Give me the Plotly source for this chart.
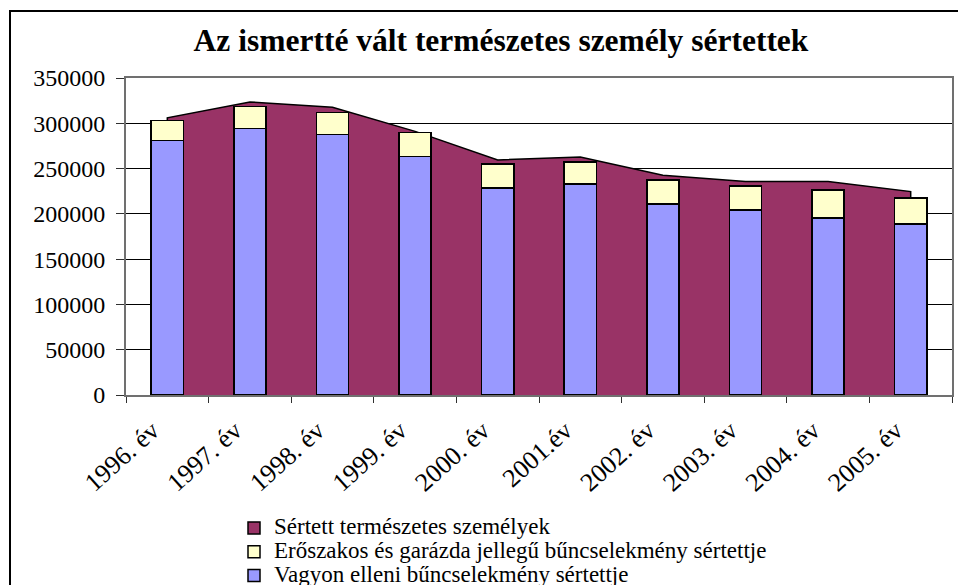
import plotly.graph_objects as go

categories = ["1996. év", "1997. év", "1998. év", "1999. év", "2000. év",
              "2001.év", "2002. év", "2003. év", "2004. év", "2005. év"]
sertett = [306000, 323600, 317800, 291100, 259500, 262800, 242700, 235600, 235600, 224600]
vagyon = [281200, 294400, 287800, 263600, 228400, 232800, 210800, 204200, 195400, 188800]
eroszakos = [22000, 24200, 24200, 26400, 26700, 24200, 26400, 26400, 30800, 28600]

names = ["Sértett természetes személyek",
         "Erőszakos és garázda jellegű bűncselekmény sértettje",
         "Vagyon elleni bűncselekmény sértettje"]
y_ticks = [0, 50000, 100000, 150000, 200000, 250000, 300000, 350000]

MAROON = "#993366"
YELLOW = "#FFFFCC"
BLUE = "#9999FF"
FONT = "Liberation Serif, Times New Roman, serif"

W, H = 958, 585
L, R, T, B = 126, 6, 78, 190
pw, ph = W - L - R, H - T - B


def leg(name):
    return '<span style="font-size:23px">' + name + '</span>'


fig = go.Figure()

# area (behind, on main axes)
fig.add_trace(go.Scatter(
    x=[categories[0]] + categories + [categories[-1]],
    y=[0] + sertett + [0],
    fill="toself", fillcolor=MAROON, mode="lines",
    line=dict(color="black", width=1.5),
    showlegend=False, hoverinfo="skip", xaxis="x", yaxis="y"))

# legend-only entry for the area
fig.add_trace(go.Bar(
    x=[None], y=[None], name=leg(names[0]), legendrank=1,
    marker=dict(color=MAROON, line=dict(color="black", width=1.5)),
    xaxis="x2", yaxis="y2"))

fig.add_trace(go.Bar(
    x=categories, y=vagyon, name=leg(names[2]), legendrank=3,
    marker=dict(color=BLUE, line=dict(color="black", width=1.5)),
    xaxis="x2", yaxis="y2"))
fig.add_trace(go.Bar(
    x=categories, y=eroszakos, name=leg(names[1]), legendrank=2,
    marker=dict(color=YELLOW, line=dict(color="black", width=1.5)),
    xaxis="x2", yaxis="y2"))

xrange = [-0.5, len(categories) - 0.5]
yrange = [0, 350000]

fig.update_layout(
    width=W, height=H,
    margin=dict(l=L, r=R, t=T, b=B, autoexpand=False),
    paper_bgcolor="white", plot_bgcolor="white",
    font=dict(family=FONT, color="black", size=24),
    barmode="stack", bargap=0.61,
    title=dict(text="<b>Az ismertté vált természetes személy sértettek</b>",
               font=dict(family=FONT, size=31.5, color="black"),
               x=501 / W, xref="container", xanchor="center",
               y=1 - 40 / H, yref="container", yanchor="middle"),
    xaxis=dict(type="category", categoryorder="array", categoryarray=categories,
               range=xrange, showgrid=False, zeroline=False, automargin=False,
               showline=True, linecolor="#707070", linewidth=2, mirror=True,
               ticks="outside", tickson="boundaries", ticklen=6, tickcolor="#303030",
               tickangle=-42, ticklabelstandoff=8, ticklabelshift=-15,
               tickfont=dict(family=FONT, size=26, color="black")),
    yaxis=dict(range=yrange, tickvals=y_ticks, tickformat="d", automargin=False,
               showgrid=True, gridcolor="black", gridwidth=1, zeroline=False,
               showline=True, linecolor="#707070", linewidth=2, mirror=True,
               ticks="outside", ticklen=8, tickcolor="#303030",
               ticklabelstandoff=6,
               tickfont=dict(family=FONT, size=24, color="black")),
    xaxis2=dict(type="category", categoryorder="array", categoryarray=categories,
                range=xrange, overlaying="x", visible=False),
    yaxis2=dict(range=yrange, overlaying="y", visible=False),
    legend=dict(x=(234 - L) / pw, xanchor="left",
                y=(H - B - 511) / ph, yanchor="top",
                traceorder="normal",
                font=dict(family=FONT, size=16, color="black"),
                bgcolor="rgba(0,0,0,0)", tracegroupgap=0,
                itemclick=False),
    shapes=[dict(type="rect", xref="paper", yref="paper",
                 x0=(10 - L) / pw, x1=(962 - L) / pw,
                 y0=(H - B - 620) / ph, y1=(H - B - 11) / ph,
                 line=dict(color="black", width=2), fillcolor="rgba(0,0,0,0)",
                 layer="above")],
)

fig.write_html("out.html",
               config={"displayModeBar": False},
               post_script="document.body.style.margin='0px';"
                           "document.body.style.overflow='hidden';")
